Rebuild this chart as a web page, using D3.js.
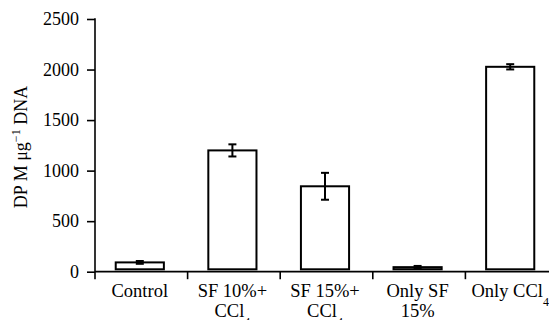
<!DOCTYPE html>
<html><head><meta charset="utf-8">
<script src="https://cdn.jsdelivr.net/npm/d3@7"></script>
<style>html,body{margin:0;padding:0;background:#fff;overflow:hidden}</style>
</head><body>
<svg id="c" width="549" height="320"></svg>
<script>
const categories = ["Control", "SF 10%+|CCl4", "SF 15%+|CCl4", "Only SF|15%", "Only CCl4"];
const values = [92, 1200, 845, 45, 2027];
const errors = [14, 60, 133, 12, 26];
const yTicks = [0, 500, 1000, 1500, 2000, 2500];

const svg = d3.select("#c");
const font = "Liberation Serif, Times New Roman, serif";
const x = d3.scaleBand().domain(categories).range([95, 558]).padding(0);
const y = d3.scaleLinear().domain([0, 2500]).range([271.7, 19]);
const barW = x.bandwidth() * 0.52;
const shift = -1.5;

// y axis
const ya = svg.append("g").attr("transform", "translate(95,0)")
  .call(d3.axisLeft(y).tickValues(yTicks).tickFormat(d3.format("d")).tickSize(8).tickPadding(8).tickSizeOuter(0));
ya.select(".domain").remove();
ya.selectAll(".tick line").attr("stroke", "#000").attr("stroke-width", 1.6);
ya.selectAll(".tick text").attr("font-family", font).attr("font-size", 18).attr("fill", "#000");
svg.append("line").attr("x1", 95).attr("x2", 95).attr("y1", y(2500) - 0.8).attr("y2", y(0) + 7.5)
  .attr("stroke", "#000").attr("stroke-width", 1.6);

// x axis
const xa = svg.append("g").attr("transform", `translate(0,${y(0)})`)
  .call(d3.axisBottom(x).tickSize(0).tickFormat(""));
xa.select(".domain").attr("d", `M95,0H549`).attr("stroke", "#000").attr("stroke-width", 1.8);
categories.forEach((c, i) => {
  if (i === 0) return;
  svg.append("line").attr("x1", x(c)).attr("x2", x(c)).attr("y1", y(0)).attr("y2", y(0) + 7.5)
    .attr("stroke", "#000").attr("stroke-width", 1.6);
});

// category labels
categories.forEach((c, i) => {
  const cx = x(c) + x.bandwidth() / 2 + shift;
  const lines = c.split("|");
  lines.forEach((ln, j) => {
    const t = svg.append("text").attr("x", cx).attr("y", 297 + j * 20)
      .attr("text-anchor", "middle").attr("font-family", font).attr("font-size", 18.5).attr("fill", "#000");
    if (ln.endsWith("CCl4")) {
      t.append("tspan").text(ln.slice(0, -1));
      t.append("tspan").attr("dy", 9).attr("font-size", 12).text("4");
    } else t.text(ln);
  });
});

// bars
svg.selectAll("rect.bar").data(values).enter().append("rect")
  .attr("x", (d, i) => x(categories[i]) + x.bandwidth() / 2 + shift - barW / 2)
  .attr("y", d => y(d))
  .attr("width", barW)
  .attr("height", d => y(0) - 2.4 - y(d))
  .attr("fill", "#fff").attr("stroke", "#000").attr("stroke-width", 2);

// error bars
values.forEach((v, i) => {
  const cx = x(categories[i]) + x.bandwidth() / 2 + shift;
  const g = svg.append("g").attr("stroke", "#000").attr("stroke-width", 2);
  g.append("line").attr("x1", cx).attr("x2", cx).attr("y1", y(v + errors[i])).attr("y2", y(v - errors[i]));
  g.append("line").attr("x1", cx - 4).attr("x2", cx + 4).attr("y1", y(v + errors[i])).attr("y2", y(v + errors[i]));
  g.append("line").attr("x1", cx - 4).attr("x2", cx + 4).attr("y1", y(v - errors[i])).attr("y2", y(v - errors[i]));
});

// y label
const yl = svg.append("text").attr("transform", "translate(27,147) rotate(-90)")
  .attr("text-anchor", "middle").attr("font-family", font).attr("font-size", 18).attr("fill", "#000");
yl.append("tspan").text("DP M μg");
yl.append("tspan").attr("dy", -7).attr("font-size", 12).text("−1");
yl.append("tspan").attr("dy", 7).text(" DNA");
</script>
</body></html>
